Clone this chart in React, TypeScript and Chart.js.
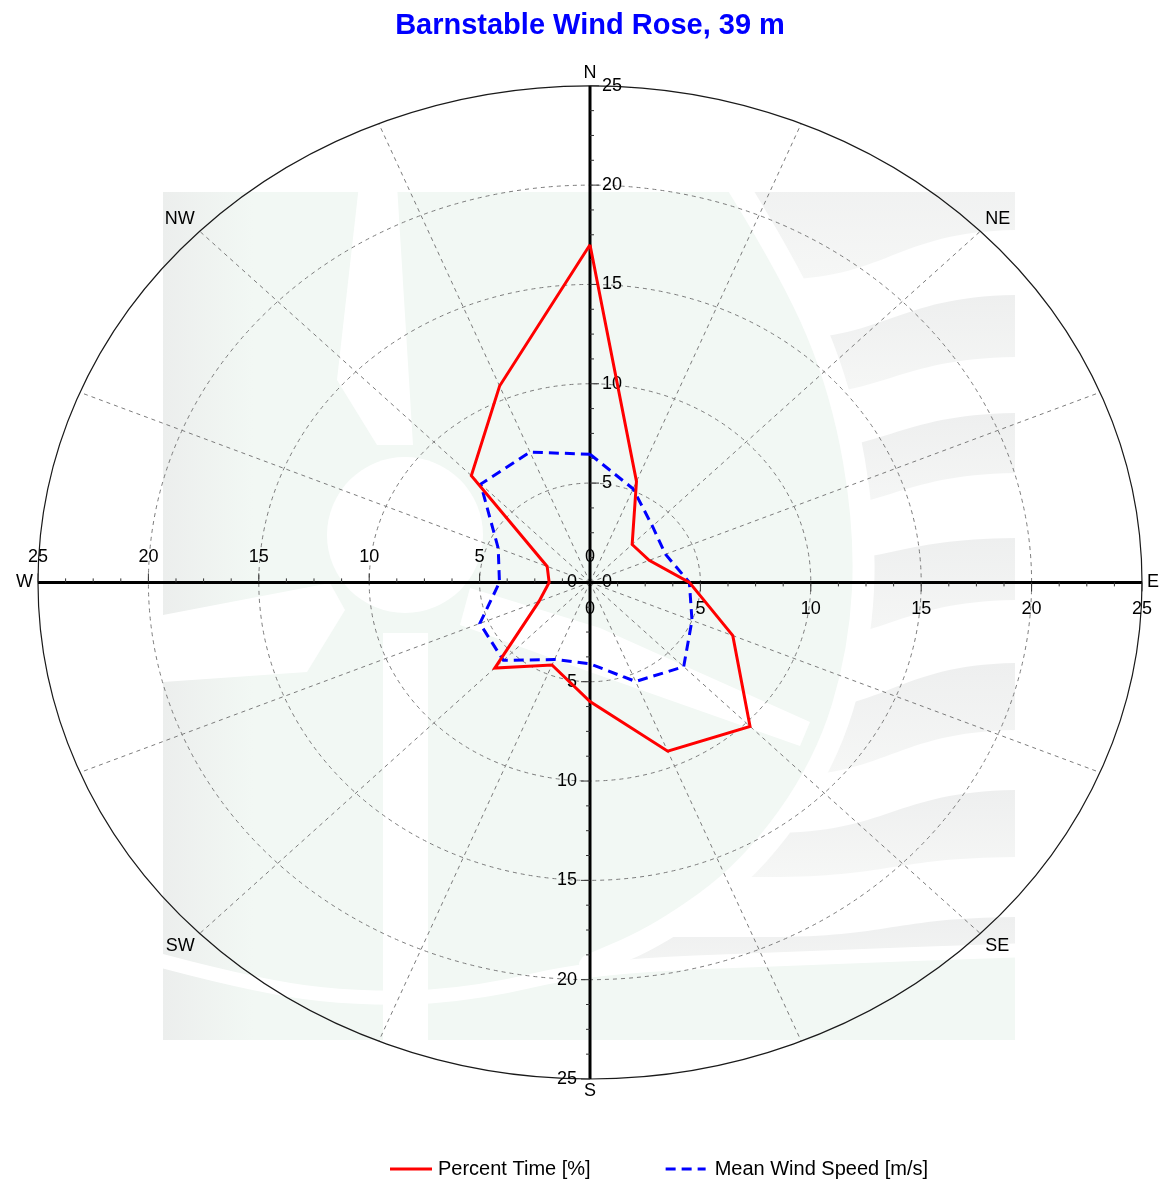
import React, { useEffect, useRef } from "react";
import { Chart, registerables } from "chart.js";

Chart.register(...registerables);

const TITLE = "Barnstable Wind Rose, 39 m";
const directions = ["N", "NNE", "NE", "ENE", "E", "ESE", "SE", "SSE", "S", "SSW", "SW", "WSW", "W", "WNW", "NW", "NNW"];
const percentTime = [17.0, 5.5, 2.7, 2.9, 4.5, 7.0, 10.25, 9.2, 6.0, 4.5, 6.1, 2.5, 1.85, 2.1, 7.6, 10.7];
const meanWindSpeed = [6.45, 5.1, 4.0, 3.7, 4.5, 5.0, 6.0, 5.4, 4.1, 4.2, 5.55, 5.4, 4.1, 4.5, 7.0, 7.1];
const seriesLabels = ["Percent Time [%]", "Mean Wind Speed [m/s]"];
const radialTicks = [0, 5, 10, 15, 20, 25];
const compassLabels = ["N", "NE", "E", "SE", "S", "SW", "W", "NW"];
const axisMax = 25;

const FONT = '"Liberation Sans", Arial, Helvetica, sans-serif';

function toXY(values: number[]) {
  const pts = values.map((v, i) => {
    const a = (i * 2 * Math.PI) / values.length;
    return { x: v * Math.sin(a), y: v * Math.cos(a) };
  });
  pts.push(pts[0]);
  return pts;
}

function smoothPath(ctx: CanvasRenderingContext2D, pts: number[][]) {
  ctx.moveTo(pts[0][0], pts[0][1]);
  for (let i = 1; i < pts.length - 1; i++) {
    const mx = (pts[i][0] + pts[i + 1][0]) / 2;
    const my = (pts[i][1] + pts[i + 1][1]) / 2;
    ctx.quadraticCurveTo(pts[i][0], pts[i][1], mx, my);
  }
  const last = pts[pts.length - 1];
  ctx.lineTo(last[0], last[1]);
}

function drawWatermark(ctx: CanvasRenderingContext2D) {
  const L = 163, T = 192, R = 1015, B = 1040;
  ctx.save();
  ctx.beginPath();
  ctx.rect(L, T, R - L, B - T);
  ctx.clip();
  const g = ctx.createLinearGradient(L, 0, L + 90, 0);
  g.addColorStop(0, "#eceeed");
  g.addColorStop(1, "#f2f8f4");
  ctx.fillStyle = g;
  ctx.fillRect(L, T, R - L, B - T);

  const ring = [[728, 170], [792, 272], [842, 392], [866, 530], [860, 650], [825, 765], [750, 870], [660, 935], [590, 965]];
  const bottom = [[140, 955], [260, 988], [380, 1000], [480, 993], [590, 967], [800, 958], [1030, 950]];

  // outside region (white with grey waves)
  ctx.save();
  ctx.beginPath();
  smoothPath(ctx, ring);
  ctx.lineTo(1030, 950);
  ctx.lineTo(1030, 170);
  ctx.closePath();
  ctx.fillStyle = "#ffffff";
  ctx.fill();
  ctx.clip();
  const waves = [
    [150, 150, 280, 230],
    [340, 295, 397, 357],
    [453, 413, 513, 473],
    [565, 538, 643, 600],
    [713, 663, 777, 730],
    [833, 790, 877, 857],
    [937, 917, 990, 990],
  ];
  waves.forEach(([lt, rt, lb, rb]) => {
    const xl = 770, xr = 1015, xm = (xl + xr) / 2;
    const grad = ctx.createLinearGradient(0, Math.min(lt, rt), 0, Math.max(lb, rb));
    grad.addColorStop(0, "#eeefef");
    grad.addColorStop(1, "#f6f7f6");
    ctx.fillStyle = grad;
    ctx.beginPath();
    ctx.moveTo(560, lt);
    ctx.lineTo(xl, lt);
    ctx.bezierCurveTo(xm, lt, xm, rt, xr + 10, rt);
    ctx.lineTo(xr + 10, rb);
    ctx.bezierCurveTo(xm, rb, xm, lb, xl, lb);
    ctx.lineTo(560, lb);
    ctx.closePath();
    ctx.fill();
  });
  ctx.restore();

  // white bands
  ctx.strokeStyle = "#ffffff";
  ctx.lineCap = "round";
  ctx.lineWidth = 22;
  ctx.beginPath();
  smoothPath(ctx, ring);
  ctx.stroke();
  ctx.lineWidth = 14;
  ctx.beginPath();
  smoothPath(ctx, bottom);
  ctx.stroke();

  // turbine shapes
  ctx.fillStyle = "#ffffff";
  ctx.beginPath();
  ctx.arc(405, 535, 78, 0, Math.PI * 2);
  ctx.fill();
  ctx.beginPath();
  ctx.moveTo(359, 185);
  ctx.lineTo(397, 185);
  ctx.lineTo(413, 445);
  ctx.lineTo(377, 445);
  ctx.lineTo(337, 380);
  ctx.closePath();
  ctx.fill();
  ctx.fillRect(383, 633, 45, 420);
  ctx.beginPath();
  ctx.moveTo(163, 615);
  ctx.lineTo(330, 583);
  ctx.lineTo(345, 610);
  ctx.lineTo(307, 672);
  ctx.lineTo(163, 682);
  ctx.closePath();
  ctx.fill();
  ctx.beginPath();
  ctx.moveTo(470, 588);
  ctx.lineTo(600, 628);
  ctx.lineTo(810, 722);
  ctx.lineTo(800, 746);
  ctx.lineTo(590, 672);
  ctx.lineTo(460, 625);
  ctx.closePath();
  ctx.fill();
  ctx.restore();
}

const roseGrid = {
  id: "roseGrid",
  beforeDatasetsDraw(chart: any) {
    const { ctx } = chart;
    const xs = chart.scales.x;
    const ys = chart.scales.y;
    const px = (v: number) => xs.getPixelForValue(v);
    const py = (v: number) => ys.getPixelForValue(v);
    const cx = px(0), cy = py(0);
    const rx = px(axisMax) - cx;
    const ry = cy - py(axisMax);
    ctx.save();
    drawWatermark(ctx);

    // dashed rings
    ctx.setLineDash([4, 4]);
    ctx.strokeStyle = "#7c7c7c";
    ctx.lineWidth = 1;
    radialTicks.filter((t) => t > 0 && t < axisMax).forEach((t) => {
      ctx.beginPath();
      ctx.ellipse(cx, cy, (rx * t) / axisMax, (ry * t) / axisMax, 0, 0, Math.PI * 2);
      ctx.stroke();
    });
    // dashed spokes
    directions.forEach((_, i) => {
      if (i % 4 === 0) return;
      const a = (i * 2 * Math.PI) / directions.length;
      ctx.beginPath();
      ctx.moveTo(cx, cy);
      ctx.lineTo(px(axisMax * Math.sin(a)), py(axisMax * Math.cos(a)));
      ctx.stroke();
    });
    ctx.setLineDash([]);
    // outer ring
    ctx.strokeStyle = "#1a1a1a";
    ctx.lineWidth = 1.2;
    ctx.beginPath();
    ctx.ellipse(cx, cy, rx, ry, 0, 0, Math.PI * 2);
    ctx.stroke();

    // main axes
    ctx.strokeStyle = "#000000";
    ctx.lineWidth = 3;
    ctx.beginPath();
    ctx.moveTo(px(-axisMax), cy);
    ctx.lineTo(px(axisMax), cy);
    ctx.moveTo(cx, py(axisMax));
    ctx.lineTo(cx, py(-axisMax));
    ctx.stroke();

    // ticks
    ctx.lineWidth = 1;
    ctx.strokeStyle = "#333333";
    const step = (radialTicks[1] - radialTicks[0]) / 4;
    for (let t = step; t <= axisMax + 1e-6; t += step) {
      const major = Math.abs(t / (step * 4) - Math.round(t / (step * 4))) < 1e-6;
      const len = major ? 9 : 4;
      ctx.beginPath();
      ctx.moveTo(cx, py(t)); ctx.lineTo(cx + len, py(t));
      ctx.moveTo(px(t), cy); ctx.lineTo(px(t), cy + len);
      ctx.moveTo(cx, py(-t)); ctx.lineTo(cx - len, py(-t));
      ctx.moveTo(px(-t), cy); ctx.lineTo(px(-t), cy - len);
      ctx.stroke();
    }

    // tick labels
    ctx.fillStyle = "#000000";
    ctx.font = `18px ${FONT}`;
    ctx.textBaseline = "middle";
    radialTicks.forEach((t) => {
      const s = String(t);
      ctx.textAlign = "left";
      ctx.fillText(s, cx + 12, py(t));
      ctx.textAlign = "center";
      ctx.fillText(s, px(t), cy + 27);
      ctx.textAlign = "right";
      ctx.fillText(s, cx - 13, py(-t));
      ctx.textAlign = "center";
      ctx.fillText(s, px(-t), cy - 25);
    });

    // compass labels
    ctx.textAlign = "center";
    compassLabels.forEach((lab, i) => {
      const a = (i * 2 * Math.PI) / compassLabels.length;
      const s = Math.sin(a), c = Math.cos(a);
      const w = ctx.measureText(lab).width;
      const h = 13;
      const X = px(axisMax * s) + Math.sign(Math.round(s * 1000)) * (w / 2 + 5);
      const Y = py(axisMax * c) - Math.sign(Math.round(c * 1000)) * (h / 2 + 6);
      ctx.fillText(lab, X, Y);
    });
    ctx.restore();
  },
};

const roseLegend = {
  id: "roseLegend",
  afterDraw(chart: any) {
    const { ctx } = chart;
    const y = chart.chartArea.bottom + 90;
    ctx.save();
    ctx.font = `20px ${FONT}`;
    ctx.textBaseline = "middle";
    ctx.textAlign = "left";
    let x = 390;
    chart.data.datasets.forEach((ds: any, i: number) => {
      ctx.strokeStyle = ds.borderColor;
      ctx.lineWidth = 3;
      ctx.setLineDash(ds.borderDash || []);
      const len = i === 0 ? 42 : 40;
      ctx.beginPath();
      ctx.moveTo(x, y);
      ctx.lineTo(x + len, y);
      ctx.stroke();
      ctx.setLineDash([]);
      const tx = x + len + (i === 0 ? 6 : 9);
      ctx.fillStyle = "#000000";
      ctx.fillText(ds.label, tx, y);
      x = tx + ctx.measureText(ds.label).width + 75;
    });
    ctx.restore();
  },
};

export default function App() {
  const ref = useRef<HTMLCanvasElement>(null);
  useEffect(() => {
    document.body.style.margin = "0";
    const canvas = ref.current!;
    const chart = new Chart(canvas, {
      type: "scatter",
      data: {
        datasets: [
          {
            label: seriesLabels[0],
            data: toXY(percentTime),
            showLine: true,
            borderColor: "#ff0000",
            backgroundColor: "#ff0000",
            borderWidth: 3,
            pointRadius: 0,
            tension: 0,
          },
          {
            label: seriesLabels[1],
            data: toXY(meanWindSpeed),
            showLine: true,
            borderColor: "#0000ff",
            backgroundColor: "#0000ff",
            borderWidth: 3,
            borderDash: [10, 6],
            pointRadius: 0,
            tension: 0,
          },
        ],
      },
      options: {
        animation: false,
        responsive: false,
        layout: { padding: { left: 38, right: 34, top: 0, bottom: 103 } },
        scales: {
          x: { type: "linear", min: -axisMax, max: axisMax, display: false },
          y: { type: "linear", min: -axisMax, max: axisMax, display: false },
        },
        plugins: {
          legend: { display: false },
          tooltip: { enabled: false },
          title: {
            display: true,
            text: TITLE,
            color: "#0000ff",
            font: { family: FONT, size: 29, weight: "bold" },
            padding: { top: 9, bottom: 42 },
          },
        },
      },
      plugins: [roseGrid, roseLegend],
    } as any);
    return () => chart.destroy();
  }, []);
  return <canvas ref={ref} width={1176} height={1182} style={{ display: "block", width: 1176, height: 1182 }} />;
}
